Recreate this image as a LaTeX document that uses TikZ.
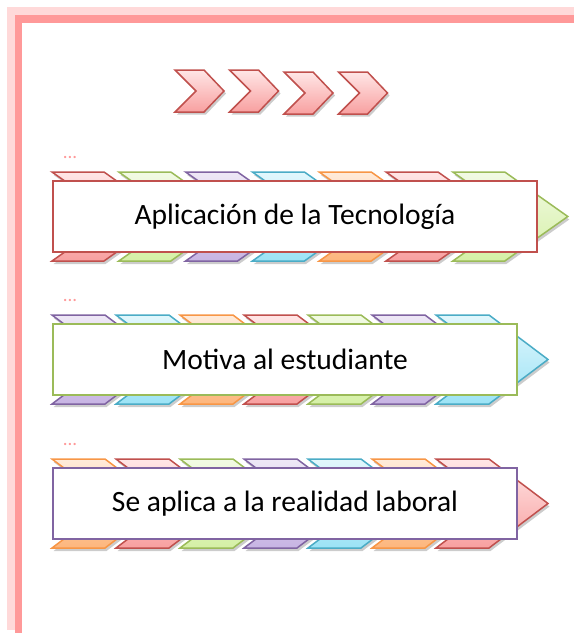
\documentclass[tikz,border=0pt]{standalone}
\usepackage{fontspec}
\setmainfont{Carlito}
\usetikzlibrary{shadows}
\definecolor{MarcoClaro}{HTML}{FFD9D9}
\definecolor{MarcoOscuro}{HTML}{FF9999}
\definecolor{Borde0}{HTML}{C0504D}
\definecolor{Borde1}{HTML}{9BBB59}
\definecolor{Borde2}{HTML}{8064A2}
\definecolor{Borde3}{HTML}{4BACC6}
\definecolor{Borde4}{HTML}{F79646}
\definecolor{Claro0}{HTML}{FFE6E6}
\definecolor{Claro1}{HTML}{F2FAE4}
\definecolor{Claro2}{HTML}{EEE8F6}
\definecolor{Claro3}{HTML}{E2F7FC}
\definecolor{Claro4}{HTML}{FFEBDA}
\definecolor{Medio0}{HTML}{F8A0A0}
\definecolor{Medio1}{HTML}{D5F0A6}
\definecolor{Medio2}{HTML}{C7B4E3}
\definecolor{Medio3}{HTML}{9CE3F6}
\definecolor{Medio4}{HTML}{FDB67D}

\begin{document}
\begin{tikzpicture}[x=1pt,y=-1pt,
  cheurona/.style={line width=1.5pt,line join=miter,drop shadow={shadow xshift=1.5pt,shadow yshift=-3pt,fill=black!40}},
  flechita/.style={line width=1.5pt,draw=Borde0,top color=Claro0,bottom color=Medio0,drop shadow={shadow xshift=2pt,shadow yshift=-2.5pt,fill=black!40}},
  caja/.style={line width=2.2pt,fill=white,inner sep=0pt,font=\fontsize{29.5}{33}\selectfont},
  puntos/.style={text=MarcoOscuro,inner sep=0pt,font=\fontsize{19}{19}\selectfont}
]
\useasboundingbox (0,0) rectangle (574,633);
\fill[MarcoClaro] (7,630) rectangle (15,7);
\fill[MarcoClaro] (7,7) rectangle (574,15);
\fill[MarcoOscuro] (15,633) rectangle (22,15);
\fill[MarcoOscuro] (15,15) rectangle (574,23);

\foreach \x/\y in {175/70, 229.5/70, 284/72, 338.5/72}
  \draw[flechita] (\x,\y) -- ++(29,0) -- ++(20,21) -- ++(-20,21) -- ++(-29,0) -- ++(21,-21) -- cycle;

\foreach \fila/\ytop/\paso/\ancho/\punta/\inicio/\xcaja/\wcaja/\borde/\texto in {
    1/172/66.8/52/63/0/295/484/Borde0/{Aplicación de la Tecnología},
    2/315/64/53/59/2/285/464/Borde1/{Motiva al estudiante},
    3/459/64/53/59/4/285/464/Borde2/{Se aplica a la realidad laboral}} {
  \node[puntos] (puntos\fila) at (70,\ytop-15) {...};
  \foreach \i in {0,...,6} {
    \pgfmathtruncatemacro{\c}{mod(\inicio+\i,5)}
    \pgfmathsetmacro{\xa}{52+\i*\paso}
    \draw[cheurona,draw=Borde\c,top color=Claro\c,bottom color=Medio\c]
      (\xa,\ytop) -- ++(\ancho,0) -- ++(\punta,44.5) -- ++(-\punta,44.5) -- ++(-\ancho,0) -- ++(\punta,-44.5) -- cycle;
  }
  \node[caja,draw=\borde,minimum width=\wcaja,minimum height=71] (caja\fila) at (\xcaja,\ytop+44.5) {\texto};
}
\end{tikzpicture}
\end{document}
